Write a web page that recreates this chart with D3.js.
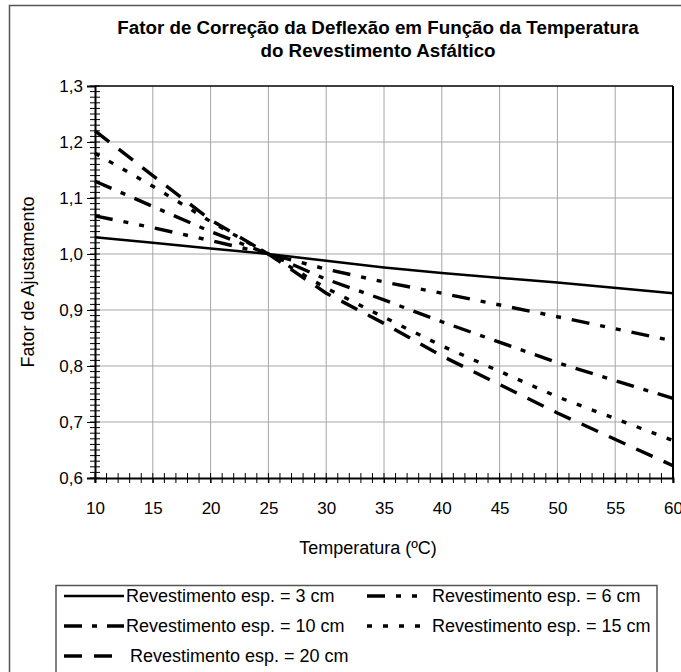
<!DOCTYPE html>
<meta charset="utf-8">
<script src="https://cdn.jsdelivr.net/npm/d3@7"></script>
<style>
	body { margin: 0; background: #fff; }
	svg text { font-family: "Liberation Sans", Arial, sans-serif; fill: #000; }
	.tick text { font-size: 17px; }
	.title { font-size: 18.8px; font-weight: bold; }
	.axlabel { font-size: 18px; }
	.legtext { font-size: 18px; }
</style>
<svg></svg>
<script>
	// temperatures (ºC)
	var temps = [10, 15, 20, 25, 30, 35, 40, 50, 60];

	var esp3  = [1.03, 1.02, 1.01, 1.00, 0.988, 0.976, 0.966, 0.949, 0.93];
	var esp6  = [1.068, 1.047, 1.024, 1.00, 0.973, 0.950, 0.930, 0.888, 0.845];
	var esp10 = [1.13, 1.085, 1.040, 1.00, 0.955, 0.918, 0.879, 0.806, 0.742];
	var esp15 = [1.18, 1.121, 1.058, 1.00, 0.939, 0.887, 0.836, 0.745, 0.667];
	var esp20 = [1.22, 1.140, 1.061, 1.00, 0.930, 0.876, 0.818, 0.716, 0.622];

	var seriesNames = ["Revestimento esp. = 3 cm", "Revestimento esp. = 6 cm",
		"Revestimento esp. = 10 cm", "Revestimento esp. = 15 cm", "Revestimento esp. = 20 cm"];
	var seriesValues = [esp3, esp6, esp10, esp15, esp20];
	var seriesDash = [null, "18,11,5,11,5,11", "18,10,5,10", "5,11", "18,12"];

	var xTicks = [10, 15, 20, 25, 30, 35, 40, 45, 50, 55, 60];
	var yTicks = [0.6, 0.7, 0.8, 0.9, 1.0, 1.1, 1.2, 1.3];

	var W = 681, H = 672;
	var plot = { left: 95, right: 673, top: 86, bottom: 478 };

	var svg = d3.select("svg").attr("width", W).attr("height", H);

	// outer chart border
	svg.append("rect")
		.attr("x", 9.5).attr("y", 5.5)
		.attr("width", 700).attr("height", 700)
		.attr("fill", "none").attr("stroke", "#555").attr("stroke-width", 1.5);

	var x = d3.scaleLinear().domain([10, 60]).range([plot.left, plot.right]);
	var y = d3.scaleLinear().domain([0.6, 1.3]).range([plot.bottom, plot.top]);
	var fmt = function (d){ return d3.format(".1f")(d).replace(".", ","); };

	// title
	svg.append("text").attr("class", "title").attr("x", 378).attr("y", 34)
		.attr("text-anchor", "middle").text("Fator de Correção da Deflexão em Função da Temperatura");
	svg.append("text").attr("class", "title").attr("x", 378).attr("y", 57)
		.attr("text-anchor", "middle").text("do Revestimento Asfáltico");

	// grid
	var grid = svg.append("g");
	grid.selectAll(".gx").data(xTicks.slice(1, -1)).enter().append("line")
		.attr("x1", function (d){ return x(d); }).attr("x2", function (d){ return x(d); })
		.attr("y1", plot.top).attr("y2", plot.bottom)
		.attr("stroke", "#a6a6a6").attr("stroke-width", 1);
	grid.selectAll(".gy").data(yTicks.slice(1, -1)).enter().append("line")
		.attr("y1", function (d){ return y(d); }).attr("y2", function (d){ return y(d); })
		.attr("x1", plot.left).attr("x2", plot.right)
		.attr("stroke", "#a6a6a6").attr("stroke-width", 1);

	// frame top / right
	svg.append("line").attr("x1", plot.left).attr("x2", plot.right).attr("y1", plot.top).attr("y2", plot.top)
		.attr("stroke", "#000").attr("stroke-width", 1.5);
	svg.append("line").attr("x1", plot.right).attr("x2", plot.right).attr("y1", plot.top).attr("y2", plot.bottom)
		.attr("stroke", "#000").attr("stroke-width", 2);

	// minor ticks (crossing the axis)
	var minorX = d3.range(10, 60.001, 1);
	var minorY = d3.range(60, 130.001, 1).map(function (d){ return d / 100; });
	svg.append("g").selectAll("line").data(minorX).enter().append("line")
		.attr("x1", function (d){ return x(d); }).attr("x2", function (d){ return x(d); })
		.attr("y1", plot.bottom - 5).attr("y2", plot.bottom + 5)
		.attr("stroke", "#000").attr("stroke-width", 1);
	svg.append("g").selectAll("line").data(minorY).enter().append("line")
		.attr("y1", function (d){ return y(d); }).attr("y2", function (d){ return y(d); })
		.attr("x1", plot.left - 5).attr("x2", plot.left + 5)
		.attr("stroke", "#000").attr("stroke-width", 1);

	// axes
	var xAxis = svg.append("g").attr("transform", "translate(0," + plot.bottom + ")")
		.call(d3.axisBottom(x).tickValues(xTicks).tickSize(5).tickPadding(19));
	var yAxis = svg.append("g").attr("transform", "translate(" + plot.left + ",0)")
		.call(d3.axisLeft(y).tickValues(yTicks).tickFormat(fmt).tickSize(8).tickPadding(4));
	[xAxis, yAxis].forEach(function (a){
		a.attr("font-size", null).attr("font-family", null);
		a.select(".domain").attr("stroke", "#000").attr("stroke-width", 2);
		a.selectAll(".tick line").attr("stroke", "#000").attr("stroke-width", 1);
	});

	// axis labels
	svg.append("text").attr("class", "axlabel").attr("x", 368).attr("y", 554)
		.attr("text-anchor", "middle").text("Temperatura (ºC)");
	svg.append("text").attr("class", "axlabel")
		.attr("transform", "translate(34,282) rotate(-90)")
		.attr("text-anchor", "middle").text("Fator de Ajustamento");

	// series
	var line = d3.line()
		.x(function (d){ return x(d[0]); })
		.y(function (d){ return y(d[1]); });

	var lines = svg.append("g");
	seriesValues.forEach(function (vals, i){
		var pts = temps.map(function (t, j){ return [t, vals[j]]; });
		lines.append("path").datum(pts)
			.attr("d", line)
			.attr("fill", "none")
			.attr("stroke", "#000")
			.attr("stroke-width", i === 0 ? 2.5 : 3.4)
			.attr("stroke-dasharray", seriesDash[i]);
	});

	// legend
	svg.append("rect")
		.attr("x", 56).attr("y", 585.5).attr("width", 601).attr("height", 120)
		.attr("fill", "none").attr("stroke", "#555").attr("stroke-width", 1.5);

	var legPos = [
		{ x0: 64, x1: 124, tx: 126, y: 596 },
		{ x0: 367, x1: 428, tx: 432, y: 596 },
		{ x0: 64, x1: 124, tx: 126, y: 626 },
		{ x0: 367, x1: 428, tx: 432, y: 626 },
		{ x0: 64, x1: 114, tx: 130, y: 656 }
	];
	var leg = svg.append("g");
	seriesNames.forEach(function (name, i){
		var p = legPos[i];
		leg.append("line")
			.attr("x1", p.x0).attr("x2", p.x1).attr("y1", p.y).attr("y2", p.y)
			.attr("stroke", "#000")
			.attr("stroke-width", i === 0 ? 2.5 : 3.4)
			.attr("stroke-dasharray", seriesDash[i]);
		leg.append("text").attr("class", "legtext")
			.attr("x", p.tx).attr("y", p.y + 6).text(name);
	});
</script>
